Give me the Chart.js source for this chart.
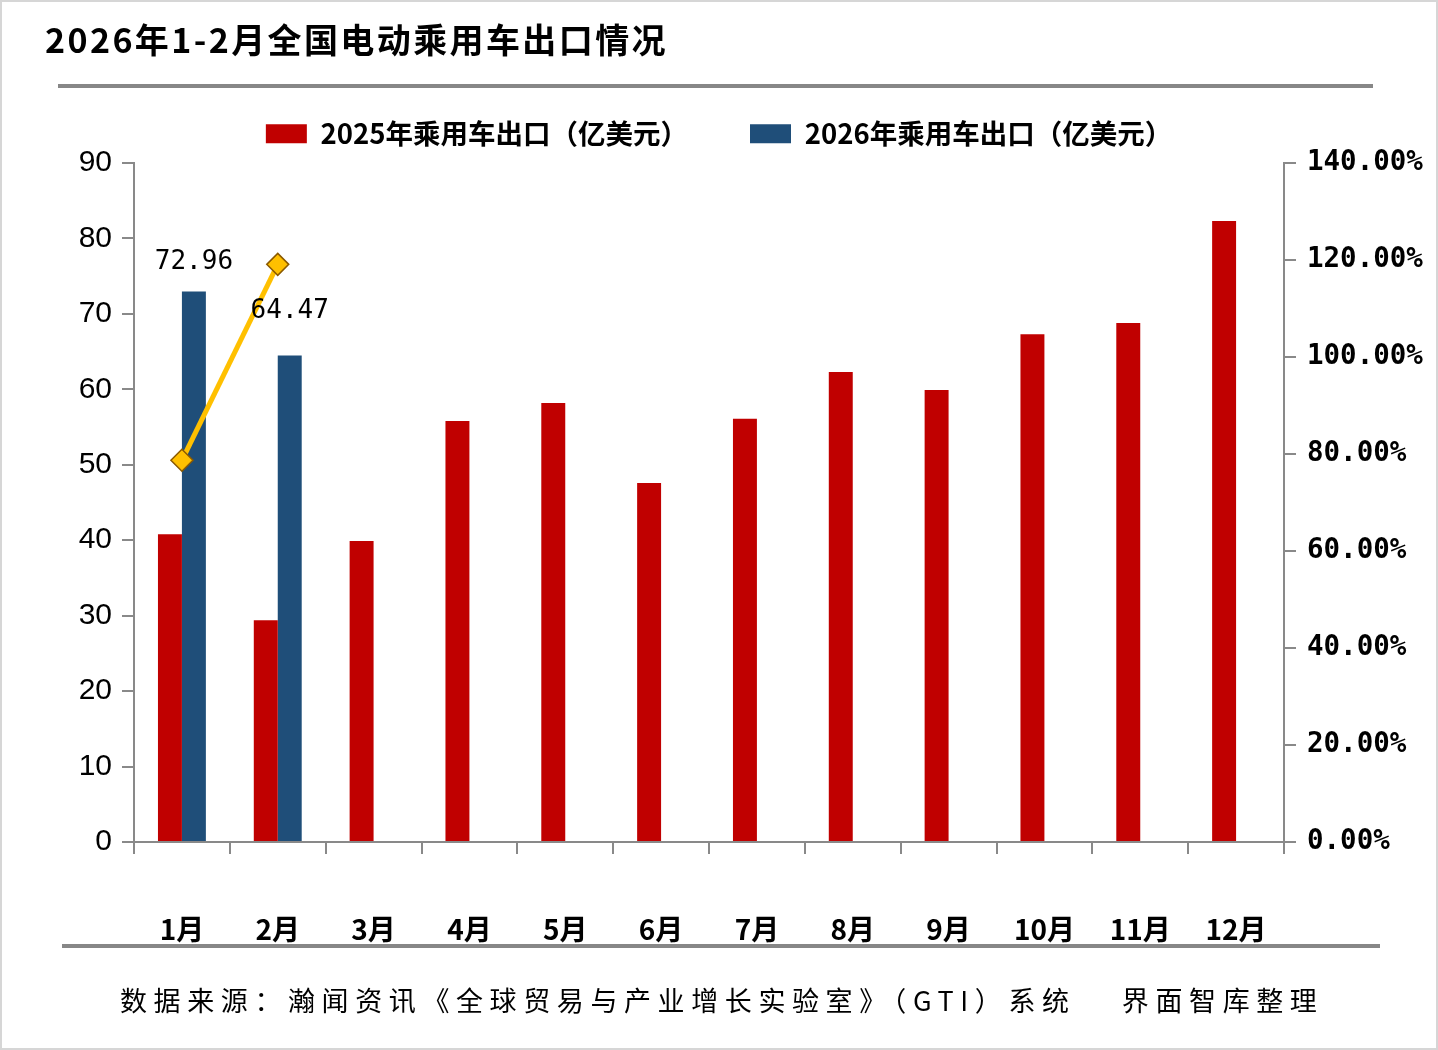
<!DOCTYPE html>
<html><head><meta charset="utf-8">
<script src="https://cdn.jsdelivr.net/npm/chart.js@4"></script>
<style>
html,body{margin:0;padding:0;background:#fff;}
#wrap{position:relative;width:1438px;height:1050px;overflow:hidden;background:#fff;}
#c{position:absolute;left:0;top:0;}
.t{position:absolute;white-space:nowrap;color:#000;font-family:"Noto Sans CJK SC";}
#title{left:45px;top:20px;font-size:34px;font-weight:bold;letter-spacing:2.4px;line-height:38px;}
#src{left:120px;top:984px;font-size:27px;letter-spacing:6.6px;line-height:32px;}
.rule{position:absolute;background:#878787;height:4px;}
#frame{position:absolute;left:0;top:0;width:1438px;height:1050px;box-sizing:border-box;border:2px solid #d6d6d6;pointer-events:none;}
</style></head>
<body><div id="wrap">
<canvas id="c" width="1438" height="1050"></canvas>
<div class="t" id="title">2026年1-2月全国电动乘用车出口情况</div>
<div class="rule" style="left:58px;top:84px;width:1315px;"></div>
<div class="rule" style="left:62px;top:944px;width:1318px;"></div>
<div class="t" id="src">数据来源：瀚闻资讯《全球贸易与产业增长实验室》（GTI）系统　 界面智库整理</div>
<div id="frame"></div>
</div>
<script>
const categories = ['1月','2月','3月','4月','5月','6月','7月','8月','9月','10月','11月','12月'];
const exports2025 = [40.8, 29.4, 39.9, 55.8, 58.2, 47.6, 56.1, 62.3, 59.9, 67.3, 68.8, 82.3];
const exports2026 = [72.96, 64.47, null, null, null, null, null, null, null, null, null, null];
const growthRate = [78.7, 119.1, null, null, null, null, null, null, null, null, null, null];
const seriesNames = ['2025年乘用车出口（亿美元）', '2026年乘用车出口（亿美元）', '同比增速'];
const leftAxis = {min: 0, max: 90, step: 10};
const rightAxis = {min: 0, max: 140, step: 20};

const CJK = '"Noto Sans CJK SC"';
const AXIS = '#898989';

const legendFit = {
  id: 'legendFit',
  beforeInit(chart) {
    const orig = chart.legend.fit;
    chart.legend.fit = function () { orig.call(this); this.height = 105; };
  }
};

const labelOffsets = [29, 44];
const barLabels = {
  id: 'barLabels',
  afterDatasetsDraw(chart) {
    const meta = chart.getDatasetMeta(1);
    const ctx = chart.ctx;
    ctx.save();
    ctx.font = '26px "DejaVu Sans Mono"';
    ctx.fillStyle = '#000';
    ctx.textAlign = 'center';
    ctx.textBaseline = 'middle';
    meta.data.forEach((el, i) => {
      const v = exports2026[i];
      if (v == null) return;
      ctx.fillText(v.toFixed(2), el.x, el.y - (labelOffsets[i] || 30));
    });
    ctx.restore();
  }
};

new Chart(document.getElementById('c'), {
  data: {
    labels: categories,
    datasets: [
      {type: 'bar', label: seriesNames[0], data: exports2025, backgroundColor: '#C00000', borderWidth: 0,
       categoryPercentage: 0.5, barPercentage: 1.0, yAxisID: 'y', order: 1},
      {type: 'bar', label: seriesNames[1], data: exports2026, backgroundColor: '#1F4E79', borderWidth: 0,
       categoryPercentage: 0.5, barPercentage: 1.0, yAxisID: 'y', order: 1},
      {type: 'line', label: seriesNames[2], data: growthRate, borderColor: '#FFC000', borderWidth: 5,
       pointStyle: 'rectRot', pointRadius: 11, pointBackgroundColor: '#FFC000', pointBorderColor: '#8B5A00',
       pointBorderWidth: 1.5, yAxisID: 'y1', order: 0, spanGaps: false, fill: false}
    ]
  },
  options: {
    responsive: false,
    animation: false,
    layout: {padding: {top: 58, bottom: 98, left: 0, right: 0}},
    plugins: {
      tooltip: {enabled: false},
      legend: {
        position: 'top',
        labels: {
          filter: (item) => item.datasetIndex < 2,
          boxWidth: 41, boxHeight: 19, padding: 62, color: '#000',
          font: {family: CJK, size: 27.5, weight: 'bold'}
        }
      }
    },
    scales: {
      x: {
        offset: true,
        grid: {display: true, drawOnChartArea: false, drawTicks: true, tickLength: 12, color: AXIS, lineWidth: 2, offset: true},
        border: {display: true, color: AXIS, width: 2},
        ticks: {color: '#000', font: {family: CJK, size: 28, weight: 'bold'}, padding: 59, maxRotation: 0, autoSkip: false},
        afterFit(s) { s.height = 110; }
      },
      y: {
        position: 'left', min: leftAxis.min, max: leftAxis.max,
        grid: {drawOnChartArea: false, drawTicks: true, tickLength: 12, color: AXIS, lineWidth: 2},
        border: {display: true, color: AXIS, width: 2},
        ticks: {stepSize: leftAxis.step, color: '#000', font: {family: '"Liberation Sans"', size: 30}, padding: 10},
        afterFit(s) { s.width = 134; }
      },
      y1: {
        position: 'right', min: rightAxis.min, max: rightAxis.max,
        grid: {drawOnChartArea: false, drawTicks: true, tickLength: 12, color: AXIS, lineWidth: 2},
        border: {display: true, color: AXIS, width: 2},
        ticks: {stepSize: rightAxis.step, color: '#000', font: {family: '"DejaVu Sans Mono"', size: 27.5, weight: 'bold'}, padding: 11,
                callback: (v) => Number(v).toFixed(2) + '%'},
        afterFit(s) { s.width = 154; }
      }
    }
  },
  plugins: [legendFit, barLabels]
});
</script>
</body></html>
